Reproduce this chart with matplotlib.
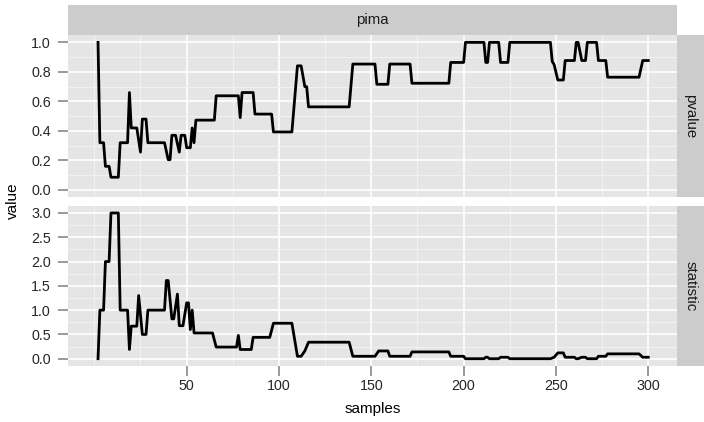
import matplotlib
matplotlib.use("Agg")
import matplotlib.pyplot as plt
from matplotlib.ticker import FixedLocator, FormatStrFormatter

plt.rcParams["font.family"] = ["Liberation Sans", "DejaVu Sans"]

W, H = 704, 422

# data (vertices of the step-like trace)
facet_label = "pima"
row_labels = ["pvalue", "statistic"]

pvalue_samples = [2, 3, 5, 6, 8, 9, 13, 14, 18, 19, 20, 23, 25, 26, 28, 29, 38, 40, 41, 42,
                  44, 46, 47, 49, 50, 52, 53, 54, 55, 65, 66, 78, 79, 80, 86, 87, 96, 97, 107, 110,
                  112, 114, 115, 116, 138, 140, 152, 153, 159, 160, 171, 172, 192, 193, 200, 201,
                  211, 212, 213, 214, 219, 220, 224, 225, 247, 248, 249, 251, 254, 255, 260, 261,
                  262, 264, 266, 267, 272, 273, 277, 278, 295, 297, 300]
pvalue_values = [1.0, 0.32, 0.32, 0.16, 0.16, 0.086, 0.086, 0.32, 0.32, 0.66, 0.42, 0.42, 0.256, 0.48,
                 0.48, 0.32, 0.32, 0.205, 0.205, 0.37, 0.37, 0.256, 0.37, 0.37, 0.286, 0.286, 0.42,
                 0.32, 0.473, 0.473, 0.638, 0.638, 0.49, 0.66, 0.66, 0.514, 0.514, 0.393, 0.393,
                 0.841, 0.841, 0.70, 0.70, 0.563, 0.563, 0.853, 0.853, 0.716, 0.716, 0.853, 0.853,
                 0.723, 0.723, 0.864, 0.864, 1.0, 1.0, 0.864, 0.864, 1.0, 1.0, 0.864, 0.864, 1.0,
                 1.0, 0.87, 0.85, 0.745, 0.745, 0.877, 0.877, 1.0, 1.0, 0.877, 0.877, 1.0, 1.0,
                 0.877, 0.877, 0.764, 0.764, 0.877, 0.877]

statistic_samples = [2, 3, 5, 6, 8, 9, 13, 14, 18, 19, 20, 23, 24, 26, 28, 29, 38, 39, 40, 42,
                     43, 45, 46, 48, 50, 51, 52, 53, 54, 64, 66, 77, 78, 79, 85, 86, 95, 97, 107, 110,
                     112, 114, 116, 138, 140, 152, 154, 159, 160, 171, 172, 192, 193, 200, 201,
                     211, 212, 213, 214, 219, 220, 224, 225, 247, 249, 251, 254, 255, 260, 261, 262,
                     264, 266, 267, 272, 273, 277, 278, 295, 297, 300]
statistic_values = [0.0, 1.0, 1.0, 2.0, 2.0, 3.0, 3.0, 1.0, 1.0, 0.19, 0.67, 0.67, 1.3, 0.5, 0.5,
                    1.0, 1.0, 1.61, 1.61, 0.82, 0.82, 1.33, 0.68, 0.68, 1.15, 1.15, 0.6, 1.0, 0.53,
                    0.53, 0.24, 0.24, 0.48, 0.19, 0.19, 0.44, 0.44, 0.73, 0.73, 0.05, 0.05, 0.16,
                    0.34, 0.34, 0.05, 0.05, 0.16, 0.16, 0.05, 0.05, 0.14, 0.14, 0.05, 0.05, 0.0,
                    0.0, 0.03, 0.03, 0.0, 0.0, 0.03, 0.03, 0.0, 0.0, 0.03, 0.12, 0.12, 0.03, 0.03,
                    0.0, 0.0, 0.03, 0.03, 0.0, 0.0, 0.05, 0.05, 0.1, 0.1, 0.03, 0.03]

x_ticks = [50, 100, 150, 200, 250, 300]
x_minor = [0, 25, 75, 125, 175, 225, 275]
pvalue_ticks = [0.0, 0.2, 0.4, 0.6, 0.8, 1.0]
pvalue_minor = [0.1, 0.3, 0.5, 0.7, 0.9]
statistic_ticks = [0.0, 0.5, 1.0, 1.5, 2.0, 2.5, 3.0]
statistic_minor = [0.25, 0.75, 1.25, 1.75, 2.25, 2.75]

PANEL_BG = "#E5E5E5"
STRIP_BG = "#CCCCCC"
MINOR_GRID = "#F2F2F2"
TEXT = "#262626"
TICK = "#7F7F7F"


def box(x0, y0, x1, y1):
    return [x0 / W, 1 - y1 / H, (x1 - x0) / W, (y1 - y0) / H]


fig = plt.figure(figsize=(W / 100, H / 100), dpi=100, facecolor="white")

panels = [
    (box(68.3, 35, 676.7, 197.3), pvalue_samples, pvalue_values, pvalue_ticks, pvalue_minor,
     (-0.05, 1.05), box(676.7, 35, 704, 197.3)),
    (box(68.3, 205.7, 676.7, 366), statistic_samples, statistic_values, statistic_ticks,
     statistic_minor, (-0.15, 3.15), box(676.7, 205.7, 704, 366)),
]

for i, (rect, xs, ys, yt, ym, ylim, strip_rect) in enumerate(panels):
    ax = fig.add_axes(rect)
    ax.set_facecolor(PANEL_BG)
    ax.plot(xs, ys, color="black", lw=2.0, solid_joinstyle="round", zorder=3)
    ax.set_xlim(-14.1, 315.4)
    ax.set_ylim(*ylim)
    ax.xaxis.set_major_locator(FixedLocator(x_ticks))
    ax.xaxis.set_minor_locator(FixedLocator(x_minor))
    ax.yaxis.set_major_locator(FixedLocator(yt))
    ax.yaxis.set_minor_locator(FixedLocator(ym))
    ax.yaxis.set_major_formatter(FormatStrFormatter("%.1f"))
    ax.grid(which="major", color="white", lw=1.2)
    ax.grid(which="minor", color=MINOR_GRID, lw=0.7)
    ax.set_axisbelow(True)
    for sp in ax.spines.values():
        sp.set_visible(False)
    ax.tick_params(which="minor", length=0)
    ax.tick_params(axis="y", which="major", length=7.5, width=1.1, color=TICK,
                   labelsize=10.3, labelcolor=TEXT, pad=5)
    if i == 0:
        ax.tick_params(axis="x", which="major", length=0, labelbottom=False)
    else:
        ax.tick_params(axis="x", which="major", length=7.5, width=1.1, color=TICK,
                       labelsize=10.3, labelcolor=TEXT, pad=2)

    sax = fig.add_axes(strip_rect)
    sax.set_facecolor(STRIP_BG)
    sax.set_xticks([])
    sax.set_yticks([])
    for sp in sax.spines.values():
        sp.set_visible(False)
    sax.text(0.5, 0.5, row_labels[i], rotation=-90, ha="center", va="center",
             fontsize=10.8, color="#1A1A1A", transform=sax.transAxes)

tax = fig.add_axes(box(68.3, 5, 676.7, 35))
tax.set_facecolor(STRIP_BG)
tax.set_xticks([])
tax.set_yticks([])
for sp in tax.spines.values():
    sp.set_visible(False)
tax.text(0.5, 0.5, facet_label, ha="center", va="center", fontsize=10.8,
         color="#1A1A1A", transform=tax.transAxes)

fig.text(372.5 / W, 1 - 409 / H, "samples", ha="center", va="center", fontsize=11, color="black")
fig.text(13 / W, 1 - 200.5 / H, "value", ha="center", va="center", rotation=90,
         fontsize=11, color="black")

fig.savefig("out.png", dpi=100)
